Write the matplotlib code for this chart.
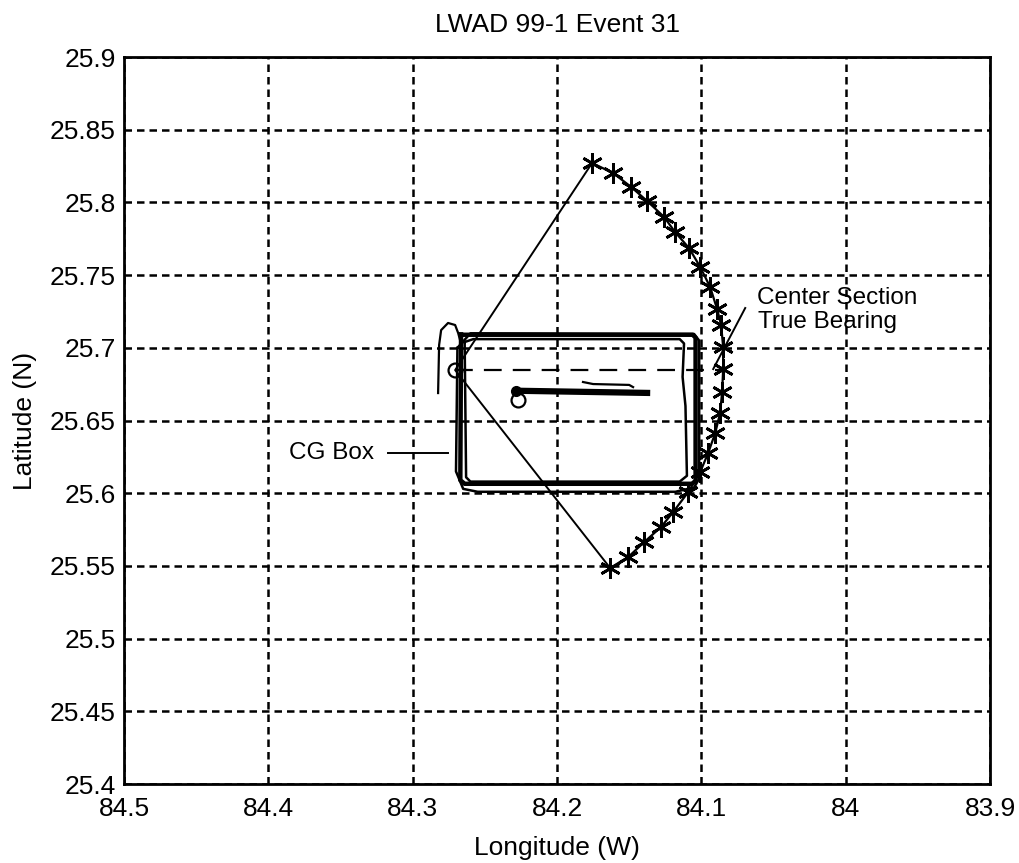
import numpy as np
import matplotlib.pyplot as plt

plt.rcParams['font.family'] = ['Liberation Sans', 'DejaVu Sans']

# track of the tow (asterisks)
arc_lon = [84.1757, 84.1611, 84.1486, 84.1376, 84.1258, 84.1182, 84.1085, 84.1008,
           84.0939, 84.0891, 84.0863, 84.0849, 84.0849, 84.0856, 84.0870, 84.0904,
           84.0953, 84.1008, 84.1091, 84.1195, 84.1279, 84.1396, 84.1507, 84.1632]
arc_lat = [25.8271, 25.8202, 25.8106, 25.8010, 25.7900, 25.7796, 25.7686, 25.7556,
           25.7418, 25.7267, 25.7157, 25.7006, 25.6854, 25.6696, 25.6552, 25.6414,
           25.6276, 25.6146, 25.6008, 25.5871, 25.5768, 25.5664, 25.5561, 25.5486]

# source point (apex of the sector)
apex_lon = 84.2706
apex_lat = 25.6847

# CG box traces
box1_lon = [84.2665, 84.1060, 84.1040, 84.1040, 84.1065, 84.2640, 84.2670, 84.2665]
box1_lat = [25.7090, 25.7090, 25.7070, 25.6085, 25.6065, 25.6065, 25.6090, 25.7090]
box2_lon = [84.2640, 84.2580, 84.1150, 84.1120, 84.1130, 84.1110, 84.1100, 84.1150, 84.2600, 84.2630, 84.2640]
box2_lat = [25.7040, 25.7060, 25.7060, 25.7030, 25.6800, 25.6600, 25.6120, 25.6080, 25.6080, 25.6110, 25.7040]
box3_lon = [84.2690, 84.2700, 84.2650, 84.2550, 84.1180, 84.1050, 84.1015, 84.1015, 84.1050, 84.2600, 84.2690]
box3_lat = [25.7000, 25.6150, 25.6030, 25.6010, 25.6010, 25.6040, 25.6100, 25.7050, 25.7095, 25.7100, 25.7000]

# loop left of the box
loop_lon = [84.2824, 84.2817, 84.2803, 84.2755, 84.2706, 84.2685, 84.2672]
loop_lat = [25.6689, 25.7019, 25.7122, 25.7171, 25.7157, 25.7102, 25.7054]

# inner track
inner_lon = [84.2283, 84.1376]
inner_lat = [25.6705, 25.6690]
inner2_lon = [84.1820, 84.1750, 84.1500, 84.1473]
inner2_lat = [25.6765, 25.6751, 25.6745, 25.6730]

xticks = [84.5, 84.4, 84.3, 84.2, 84.1, 84.0, 83.9]
xlabels = ['84.5', '84.4', '84.3', '84.2', '84.1', '84', '83.9']
yticks = [25.4, 25.45, 25.5, 25.55, 25.6, 25.65, 25.7, 25.75, 25.8, 25.85, 25.9]
ylabels = ['25.4', '25.45', '25.5', '25.55', '25.6', '25.65', '25.7', '25.75', '25.8', '25.85', '25.9']

fig = plt.figure(figsize=(10.2, 8.63), dpi=100)
ax = fig.add_axes([0.1216, 0.0915, 0.8490, 0.8424])

# sector lines
ax.plot([arc_lon[0], apex_lon, arc_lon[-1]], [arc_lat[0], apex_lat, arc_lat[-1]],
        color='black', lw=1.4)
ax.plot(arc_lon, arc_lat, color='black', lw=1.6, marker=(6, 2, 0), ms=15, mew=2)
ax.plot([apex_lon], [apex_lat], 'o', mfc='none', mec='black', ms=10, mew=1.6)

# center section true bearing
ax.plot([apex_lon, arc_lon[12]], [apex_lat, apex_lat], color='black', lw=1.6,
        linestyle=(0, (8, 5)))

# CG box
ax.plot(box1_lon, box1_lat, color='black', lw=3.2)
ax.plot(box2_lon, box2_lat, color='black', lw=1.8)
ax.plot(box3_lon, box3_lat, color='black', lw=1.8)
ax.plot(loop_lon, loop_lat, color='black', lw=1.6)

ax.plot(inner_lon, inner_lat, color='black', lw=4.5)
ax.plot(inner2_lon, inner2_lat, color='black', lw=1.6)
ax.plot([inner_lon[0]], [inner_lat[0]], 'o', color='black', ms=7)
ax.plot([84.2270], [25.6641], 'o', mfc='none', mec='black', ms=10, mew=1.6)

# annotations
ax.text(84.0615, 25.7301, 'Center Section', fontsize=17.5, ha='left', va='baseline')
ax.text(84.0605, 25.7136, 'True Bearing', fontsize=17.5, ha='left', va='baseline')
ax.plot([84.0696, 84.0918], [25.7274, 25.6854], color='black', lw=1.4)
ax.text(84.3270, 25.6277, 'CG Box', fontsize=17.5, ha='right', va='center')
ax.plot([84.3170, 84.2755], [25.6277, 25.6277], color='black', lw=1.4)

ax.set_xlim(84.5, 83.9)
ax.set_ylim(25.4, 25.9)
ax.set_xticks(xticks)
ax.set_xticklabels(xlabels)
ax.set_yticks(yticks)
ax.set_yticklabels(ylabels)
ax.tick_params(length=0, labelsize=19, pad=6)
ax.tick_params(axis='x', pad=9)
ax.grid(True, color='black', lw=1.8, linestyle=(0, (3, 2)))
for s in ax.spines.values():
    s.set_linewidth(2)

ax.set_title('LWAD 99-1 Event 31', fontsize=19, pad=18)
ax.set_xlabel('Longitude (W)', fontsize=19, labelpad=11)
ax.set_ylabel('Latitude (N)', fontsize=19, labelpad=9)

fig.savefig('out.png', dpi=100)
